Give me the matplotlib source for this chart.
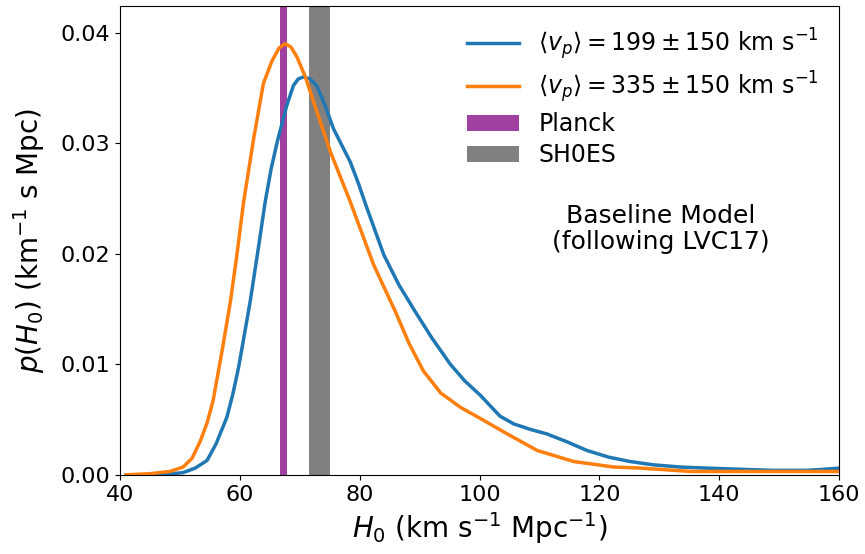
import matplotlib
matplotlib.use("Agg")
import matplotlib.pyplot as plt
import numpy as np

# H0 posteriors
h0_blue = [41, 45, 48, 50.5, 52.5, 54.5, 56, 57.8, 58.8, 59.75, 60.7, 61.7, 63, 64.2, 65.2,
           66.2, 67.8, 68.9, 69.7, 70.6, 71.7, 72.8, 74.2, 75.6, 77, 78.4, 79.8, 81.2, 84,
           86.5, 89.2, 92, 95.1, 97.5, 100.1, 103.4, 105.7, 108.5, 111.2, 114.5, 117.9,
           121.5, 125.1, 129, 133.5, 138, 143.5, 149, 154.6, 157.5, 160]
p_blue = [0, 0, 0.00005, 0.0002, 0.0006, 0.0013, 0.0028, 0.0052, 0.0073, 0.0097, 0.0126,
          0.0157, 0.0203, 0.0247, 0.0277, 0.0301, 0.0334, 0.0352, 0.0358, 0.0360, 0.0358,
          0.0352, 0.0334, 0.0313, 0.0298, 0.0283, 0.0263, 0.0241, 0.0199, 0.0172, 0.0148,
          0.0124, 0.0100, 0.0085, 0.0072, 0.0053, 0.0046, 0.0041, 0.0037, 0.0030, 0.0022,
          0.0016, 0.0012, 0.0009, 0.0007, 0.0006, 0.0005, 0.0004, 0.0004, 0.0005, 0.0006]

h0_orange = [41, 45, 48.3, 50.5, 52, 53.4, 54.5, 55.5, 57, 58.4, 59.5, 60.6, 62.3, 63.9,
             65.3, 66.5, 67.5, 68.5, 69.5, 70.9, 72.3, 75.1, 78.4, 82.3, 85.9, 88.2, 90.6,
             93.5, 96.8, 100.1, 104.6, 109.6, 115.7, 122.4, 127, 135.3, 145, 160]
p_orange = [0, 0.0001, 0.0003, 0.0007, 0.0015, 0.0031, 0.0047, 0.0067, 0.0112, 0.0157,
            0.0200, 0.0247, 0.0305, 0.0354, 0.0374, 0.0386, 0.0390, 0.0387, 0.0378, 0.0360,
            0.0337, 0.0292, 0.0247, 0.0190, 0.0148, 0.0119, 0.0094, 0.0074, 0.0061, 0.0051,
            0.0037, 0.0022, 0.0012, 0.0007, 0.0006, 0.0003, 0.0003, 0.0003]

planck = (67.2, 0.6)
shoes = (73.3, 1.75)

labels = [r"$\langle v_p \rangle = 199 \pm 150$ km s$^{-1}$",
          r"$\langle v_p \rangle = 335 \pm 150$ km s$^{-1}$",
          "Planck", "SH0ES"]

fig = plt.figure(figsize=(8.65, 5.54), dpi=100)
ax = fig.add_axes([0.139, 0.143, 0.831, 0.846])

ax.axvspan(planck[0] - planck[1], planck[0] + planck[1], color="purple", alpha=0.75,
           lw=0, label=labels[2])
ax.axvspan(shoes[0] - shoes[1], shoes[0] + shoes[1], color="gray", lw=0, label=labels[3])
ax.plot(h0_blue, p_blue, color="tab:blue", lw=2.5, label=labels[0])
ax.plot(h0_orange, p_orange, color="tab:orange", lw=2.5, label=labels[1])

ax.text(130.3, 0.0222, "Baseline Model\n(following LVC17)", ha="center", va="center",
        fontsize=18, linespacing=1.1)

handles, labs = ax.get_legend_handles_labels()
order = [2, 3, 0, 1]
ax.legend([handles[i] for i in order], [labs[i] for i in order], loc="upper right",
          frameon=False, fontsize=17, handlelength=2.2, handletextpad=0.8,
          borderaxespad=0.45, labelspacing=0.3)

ax.set_xlim(40, 160)
ax.set_ylim(0, 0.0424)
ax.set_xticks([40, 60, 80, 100, 120, 140, 160])
ax.set_yticks([0, 0.01, 0.02, 0.03, 0.04])
ax.tick_params(labelsize=16)
ax.set_xlabel(r"$H_0$ (km s$^{-1}$ Mpc$^{-1}$)", fontsize=20)
ax.set_ylabel(r"$p(H_0)$ (km$^{-1}$ s Mpc)", fontsize=20, labelpad=10)

fig.savefig("out.png", dpi=100)
